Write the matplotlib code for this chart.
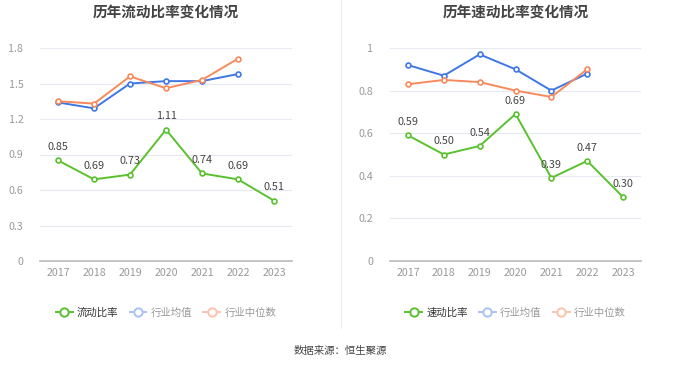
import matplotlib.pyplot as plt
from matplotlib.lines import Line2D

plt.rcParams['font.family'] = ['Noto Sans CJK SC', 'DejaVu Sans']

# ============================================================
# DATA
# ============================================================

years = ["2017", "2018", "2019", "2020", "2021", "2022", "2023"]

current_ratio = [0.85, 0.69, 0.73, 1.11, 0.74, 0.69, 0.51]
current_avg = [1.34, 1.29, 1.50, 1.52, 1.52, 1.58]
current_median = [1.35, 1.33, 1.56, 1.46, 1.53, 1.71]

quick_ratio = [0.59, 0.50, 0.54, 0.69, 0.39, 0.47, 0.30]
quick_avg = [0.92, 0.87, 0.97, 0.90, 0.80, 0.88]
quick_median = [0.83, 0.85, 0.84, 0.80, 0.77, 0.90]

current_ticks = [0, 0.3, 0.6, 0.9, 1.2, 1.5, 1.8]
quick_ticks = [0, 0.2, 0.4, 0.6, 0.8, 1.0]
quick_tick_labels = ["0", "0.2", "0.4", "0.6", "0.8", "1"]

GREEN = "#5ac12e"
BLUE = "#3f77e4"
ORANGE = "#f78a5c"

W, H = 680, 367

# ============================================================
# FIGURE
# ============================================================

fig = plt.figure(figsize=(W / 100, H / 100), dpi=100)


def draw_panel(left_px, right_px, title, main, avg, med, main_name,
               ticks, tick_labels, ymax):

    ax = fig.add_axes([
        left_px / W,
        1 - 261 / H,
        (right_px - left_px) / W,
        (261 - 48) / H
    ])

    x = list(range(len(years)))

    ax.plot(x[:len(avg)], avg, color=BLUE, lw=1.4, marker="o", ms=3.5,
            mfc="white", mew=1.2, label="行业均值", zorder=3)
    ax.plot(x[:len(med)], med, color=ORANGE, lw=1.4, marker="o", ms=3.5,
            mfc="white", mew=1.2, label="行业中位数", zorder=3)
    ax.plot(x, main, color=GREEN, lw=1.4, marker="o", ms=3.5,
            mfc="white", mew=1.2, label=main_name, zorder=4)

    for xi, v in zip(x, main):
        ax.annotate(f"{v:.2f}", (xi, v), xytext=(0, 6),
                    textcoords="offset points", ha="center", va="bottom",
                    fontsize=7.8, color="#444444", zorder=5)

    ax.set_xlim(-0.5, len(years) - 0.5)
    ax.set_ylim(0, ymax)
    ax.set_xticks(x)
    ax.set_xticklabels(years)
    ax.set_yticks(ticks)
    ax.set_yticklabels(tick_labels)

    ax.tick_params(axis="both", length=0, labelsize=7.7,
                   labelcolor="#999999")
    ax.tick_params(axis="x", pad=5)
    ax.tick_params(axis="y", pad=12)

    for t in ticks[1:]:
        ax.axhline(t, color="#e6e9f2", lw=0.8, zorder=1)

    for side in ["top", "right", "left"]:
        ax.spines[side].set_visible(False)
    ax.spines["bottom"].set_color("#bbbbbb")
    ax.spines["bottom"].set_linewidth(1.2)

    fig.text((left_px + right_px) / 2 / W, 1 - 12 / H, title,
             ha="center", va="center", fontsize=10.5, fontweight="bold",
             color="#444444")

    handles = [
        Line2D([], [], color=GREEN, lw=1.4, marker="o", ms=6,
               mfc="white", mew=1.4),
        Line2D([], [], color="#a9c2f3", lw=1.4, marker="o", ms=6,
               mfc="white", mew=1.4),
        Line2D([], [], color="#fbc3ab", lw=1.4, marker="o", ms=6,
               mfc="white", mew=1.4),
    ]
    leg = ax.legend(handles, [main_name, "行业均值", "行业中位数"],
                    loc="center", bbox_to_anchor=(0.5, (261 - 313) / 213),
                    ncol=3, frameon=False, fontsize=7.5, handlelength=1.6,
                    handletextpad=0.4, columnspacing=1.1)
    for i, txt in enumerate(leg.get_texts()):
        txt.set_color("#333333" if i == 0 else "#999999")

    return ax


draw_panel(40, 292, "历年流动比率变化情况", current_ratio, current_avg,
           current_median, "流动比率", current_ticks,
           [f"{t:g}" for t in current_ticks], 1.8)

draw_panel(390, 641, "历年速动比率变化情况", quick_ratio, quick_avg,
           quick_median, "速动比率", quick_ticks, quick_tick_labels, 1.0)

# divider
fig.add_artist(Line2D([341 / W, 341 / W], [1 - 0 / H, 1 - 328 / H],
                      color="#eeeeee", lw=0.8))

fig.text(0.5, 1 - 351 / H, "数据来源：恒生聚源", ha="center", va="center",
         fontsize=7.5, color="#444444")

fig.savefig("out.png", dpi=100, facecolor="white")
